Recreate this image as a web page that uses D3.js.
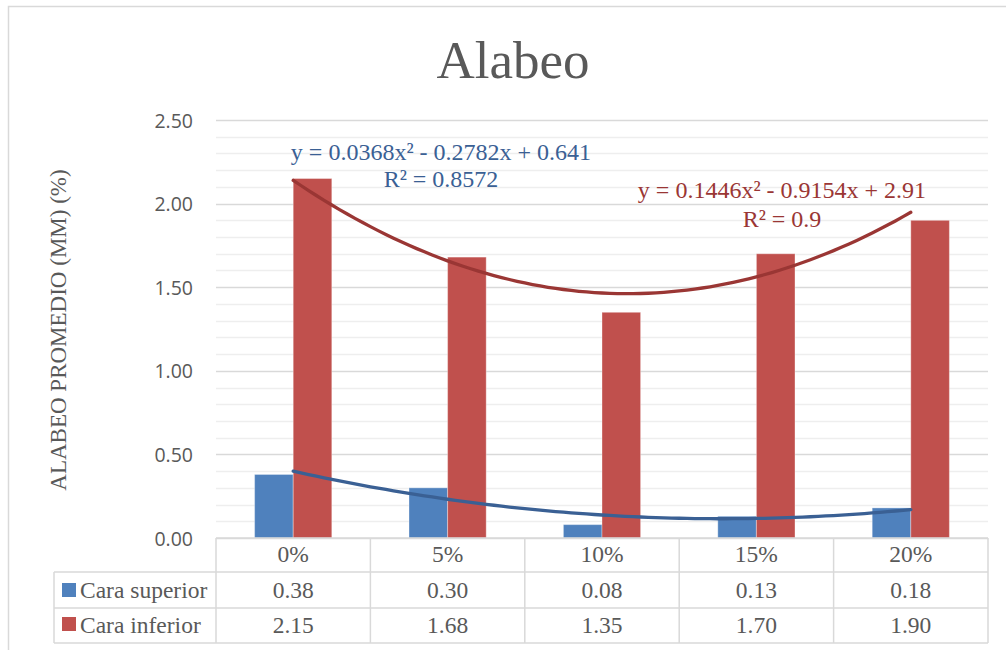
<!DOCTYPE html>
<html>
<head>
<meta charset="utf-8">
<script src="https://cdn.jsdelivr.net/npm/d3@7"></script>
<style>
  html, body { margin: 0; padding: 0; background: #fff; }
  svg { display: block; }
</style>
</head>
<body>
<svg id="chart" width="1006" height="650"></svg>
<script>
// Warping data (mm) for each replacement percentage
const categories = ["0%", "5%", "10%", "15%", "20%"];
const seriesNames = ["Cara superior", "Cara inferior"];
const caraSuperior = [0.38, 0.30, 0.08, 0.13, 0.18];
const caraInferior = [2.15, 1.68, 1.35, 1.70, 1.90];
const yTicks = [0, 0.5, 1.0, 1.5, 2.0, 2.5];
// Polynomial trend coefficients [a, b, c] for y = a x² + b x + c
const trendSuperior = [0.0368, -0.2782, 0.641];
const trendInferior = [0.1446, -0.9154, 2.91];
const eqSuperior = ["y = 0.0368x² - 0.2782x + 0.641", "R² = 0.8572"];
const eqInferior = ["y = 0.1446x² - 0.9154x + 2.91", "R² = 0.9"];

const colors = ["#4f81bd", "#c0504d"];
const trendColors = ["#3a6094", "#9a3634"];
const gray = "#595959";
const serif = "'Liberation Serif', 'Times New Roman', serif";
const sans = "'Open Sans', 'Liberation Sans', sans-serif";

const svg = d3.select("#chart");

// chart frame
svg.append("rect")
  .attr("x", 8.5).attr("y", 6.5).attr("width", 1010).attr("height", 660)
  .attr("fill", "#fff").attr("stroke", "#d9d9d9").attr("stroke-width", 1.5);

const plotLeft = 216, plotRight = 988, plotTop = 120, plotBottom = 538;

const x = d3.scaleBand().domain(categories).range([plotLeft, plotRight]).padding(0);
const bw = x.bandwidth();
const y = d3.scaleLinear().domain([0, 2.5]).range([plotBottom, plotTop]);

// title
svg.append("text")
  .attr("x", 513).attr("y", 78)
  .attr("text-anchor", "middle")
  .attr("font-family", serif).attr("font-size", 53)
  .attr("fill", gray)
  .text("Alabeo");

// gridlines: minor every 0.1, major every 0.5
const minor = d3.range(0, 26).map(i => i / 10);
svg.append("g").selectAll("line").data(minor).join("line")
  .attr("x1", plotLeft).attr("x2", plotRight)
  .attr("y1", d => Math.round(y(d)) + 0.5).attr("y2", d => Math.round(y(d)) + 0.5)
  .attr("stroke", d => (Math.round(d * 10) % 5 === 0) ? "#d9d9d9" : "#eeeeee")
  .attr("stroke-width", 1.5);

// y axis labels
const yAxis = d3.axisLeft(y).tickValues(yTicks).tickFormat(d3.format(".2f")).tickSize(0).tickPadding(23);
const gy = svg.append("g").attr("transform", `translate(${plotLeft},0)`).call(yAxis);
gy.select(".domain").remove();
gy.selectAll("text")
  .attr("font-family", sans).attr("font-size", 19.5)
  .attr("fill", gray).attr("dy", "0.36em");

// y axis title
svg.append("text")
  .attr("transform", "translate(66,330) rotate(-90)")
  .attr("text-anchor", "middle")
  .attr("font-family", serif).attr("font-size", 23)
  .attr("fill", gray)
  .text("ALABEO PROMEDIO (MM) (%)");

// bars
const series = [caraSuperior, caraInferior];
const barW = bw / 4;
series.forEach((vals, si) => {
  svg.append("g").selectAll("rect").data(vals).join("rect")
    .attr("x", (d, i) => x(categories[i]) + bw / 2 - barW + si * barW)
    .attr("y", d => y(d))
    .attr("width", barW)
    .attr("height", d => y(0) - y(d))
    .attr("fill", colors[si])
    .attr("stroke", "rgba(255,255,255,0.35)")
    .attr("stroke-width", 1);
});

// polynomial trend lines over x = 1..5
const xt = d3.scaleLinear().domain([1, 5])
  .range([x(categories[0]) + bw / 2, x(categories[4]) + bw / 2]);
const line = d3.line().x(d => xt(d[0])).y(d => y(d[1])).curve(d3.curveLinear);
[trendSuperior, trendInferior].forEach((c, si) => {
  const pts = d3.range(1, 5.0001, 0.05).map(t => [t, c[0] * t * t + c[1] * t + c[2]]);
  svg.append("path").datum(pts)
    .attr("d", line)
    .attr("fill", "none")
    .attr("stroke", trendColors[si])
    .attr("stroke-width", 3.3)
    .attr("stroke-linecap", "round");
});

// trend equations
function eqLabel(lines, cx, y1, y2, color) {
  const g = svg.append("g")
    .attr("font-family", serif).attr("font-size", 24)
    .attr("fill", color).attr("text-anchor", "middle");
  g.append("text").attr("x", cx).attr("y", y1).text(lines[0]);
  g.append("text").attr("x", cx).attr("y", y2).text(lines[1]);
}
eqLabel(eqSuperior, 441, 160, 187, trendColors[0]);
eqLabel(eqInferior, 782, 198, 227, trendColors[1]);

// data table
const tableLeft = 54;
const rowY = [538, 572, 608, 643];
const tg = svg.append("g").attr("stroke", "#d9d9d9").attr("stroke-width", 1.5).attr("fill", "none");
tg.append("line").attr("x1", plotLeft).attr("x2", plotRight).attr("y1", rowY[0]).attr("y2", rowY[0]);
[rowY[1], rowY[2], rowY[3]].forEach(yy => {
  tg.append("line").attr("x1", tableLeft).attr("x2", plotRight).attr("y1", yy).attr("y2", yy);
});
categories.forEach(c => {
  tg.append("line").attr("x1", x(c)).attr("x2", x(c)).attr("y1", rowY[0]).attr("y2", rowY[3]);
});
tg.append("line").attr("x1", plotRight).attr("x2", plotRight).attr("y1", rowY[0]).attr("y2", rowY[3]);
tg.append("line").attr("x1", tableLeft).attr("x2", tableLeft).attr("y1", rowY[1]).attr("y2", rowY[3]);

const txt = svg.append("g").attr("font-family", serif).attr("font-size", 23.5)
  .attr("fill", gray).attr("text-anchor", "middle");
txt.selectAll("text.cat").data(categories).join("text").attr("class", "cat")
  .attr("x", d => x(d) + bw / 2).attr("y", 562).text(d => d);
series.forEach((vals, si) => {
  txt.selectAll("text.v" + si).data(vals).join("text").attr("class", "v" + si)
    .attr("x", (d, i) => x(categories[i]) + bw / 2)
    .attr("y", si === 0 ? 598 : 633)
    .text(d => d.toFixed(2));
  svg.append("rect")
    .attr("x", 62).attr("y", si === 0 ? 583 : 617)
    .attr("width", 14).attr("height", 14).attr("fill", colors[si]);
  svg.append("text")
    .attr("x", 80).attr("y", si === 0 ? 598 : 633)
    .attr("font-family", serif).attr("font-size", 23.5).attr("fill", gray)
    .text(seriesNames[si]);
});
</script>
</body>
</html>
